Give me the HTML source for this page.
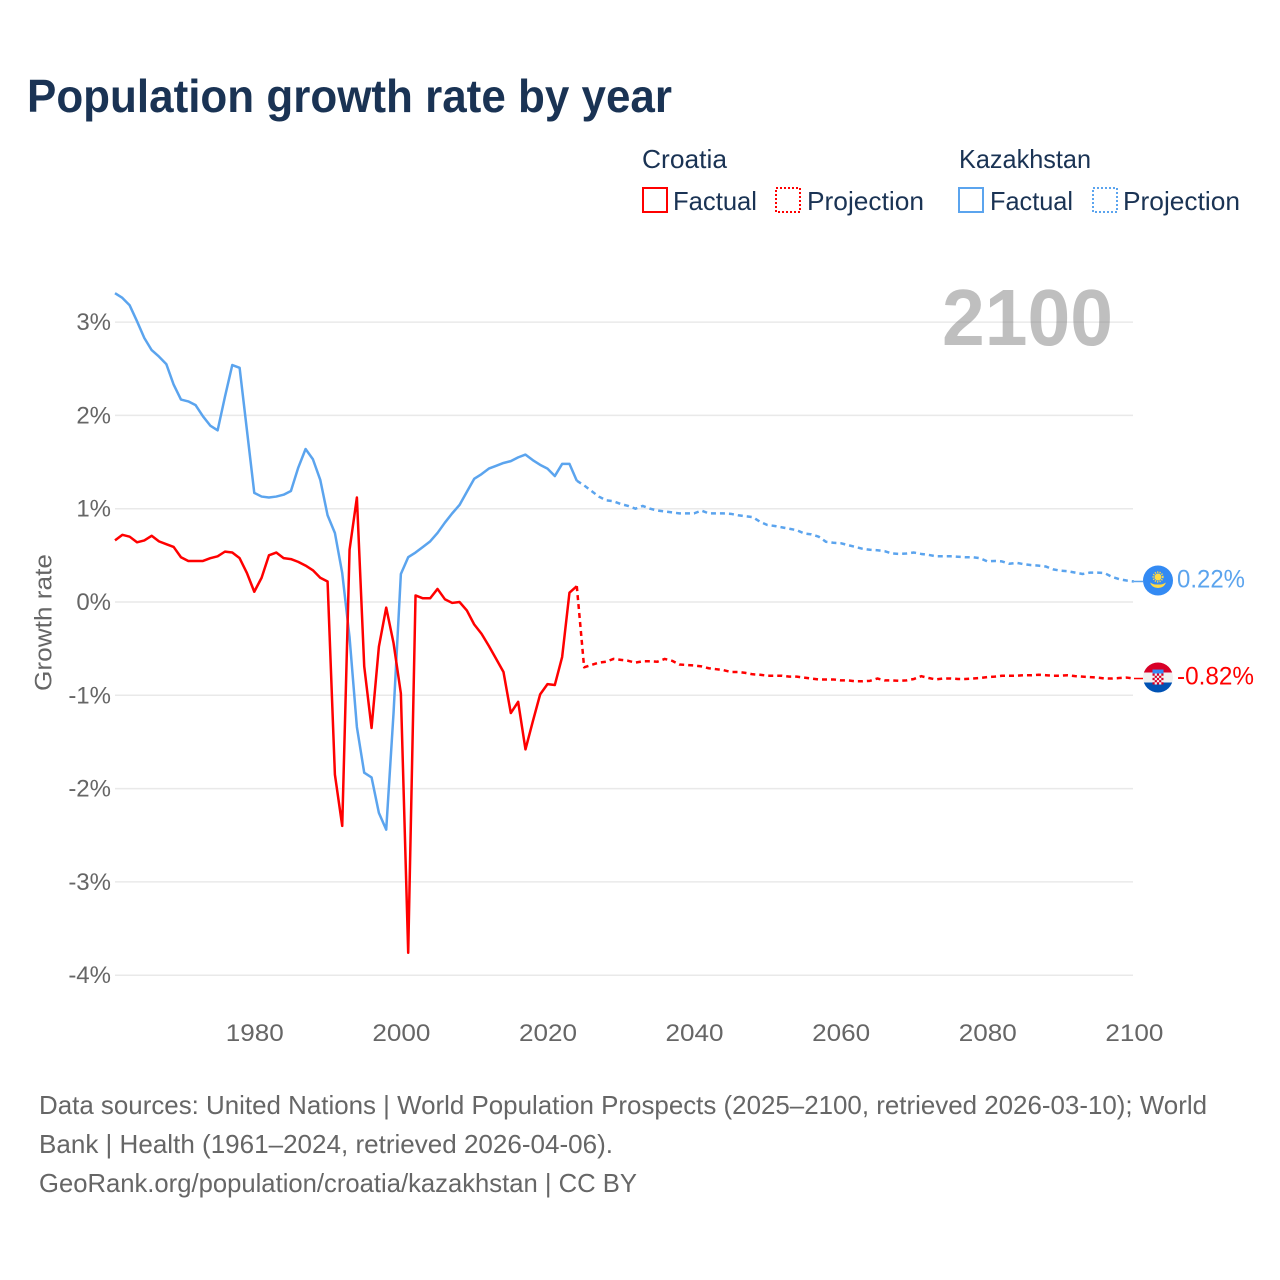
<!DOCTYPE html>
<html lang="en">
<head>
<meta charset="utf-8">
<title>Population growth rate by year</title>
<style>
  html, body { margin: 0; padding: 0; background: #fff; }
  svg { display: block; font-family: "Liberation Sans", sans-serif; }
</style>
</head>
<body>
<svg id="chart" xmlns="http://www.w3.org/2000/svg" width="1280" height="1280" viewBox="0 0 1280 1280">
  <rect x="0" y="0" width="1280" height="1280" fill="#ffffff"/>
  <text x="27" y="112" font-size="46" font-weight="700" fill="#1a3354" textLength="645" lengthAdjust="spacingAndGlyphs">Population growth rate by year</text>

  <g font-size="26" fill="#1a3354">
    <text x="642" y="168" textLength="85" lengthAdjust="spacingAndGlyphs">Croatia</text>
    <text x="959" y="168" textLength="132" lengthAdjust="spacingAndGlyphs">Kazakhstan</text>
    <rect x="643" y="188" width="24" height="24" fill="none" stroke="#ff0000" stroke-width="2"/>
    <text x="673" y="210" textLength="84" lengthAdjust="spacingAndGlyphs">Factual</text>
    <rect x="776" y="188" width="24" height="24" fill="none" stroke="#ff0000" stroke-width="2" stroke-dasharray="2 2"/>
    <text x="807" y="210" textLength="117" lengthAdjust="spacingAndGlyphs">Projection</text>
    <rect x="959" y="188" width="24" height="24" fill="none" stroke="#5ba4ee" stroke-width="2"/>
    <text x="990" y="210" textLength="83" lengthAdjust="spacingAndGlyphs">Factual</text>
    <rect x="1093" y="188" width="24" height="24" fill="none" stroke="#5ba4ee" stroke-width="2" stroke-dasharray="2 2"/>
    <text x="1123" y="210" textLength="117" lengthAdjust="spacingAndGlyphs">Projection</text>
  </g>

  <g id="grid"></g>
  <text x="942" y="345" font-size="80" font-weight="700" fill="#808080" fill-opacity="0.5" textLength="171" lengthAdjust="spacingAndGlyphs">2100</text>
  <g id="y-ticks" font-size="24" fill="#666666" text-anchor="end"></g>
  <g id="x-ticks" font-size="24" fill="#666666" text-anchor="middle"></g>
  <text transform="translate(51.500,691) rotate(-90)" font-size="24" fill="#666666" textLength="137" lengthAdjust="spacingAndGlyphs">Growth rate</text>

  <g id="series"></g>

  <g id="flag-kazakhstan">
    <circle cx="0" cy="0" r="15" fill="#338af3"/>
    <circle cx="0" cy="-3.500" r="3.500" fill="#ffda44"/>
    <circle cx="0" cy="-3.500" r="4.800" fill="none" stroke="#ffda44" stroke-width="1.600" stroke-dasharray="1.200 1.200"/>
    <path d="M-8 2 Q-4 4.500 0 4 Q4 4.500 8 2 Q6 7.500 0 7.500 Q-6 7.500 -8 2 Z" fill="#ffda44"/>
  </g>
  <g id="flag-croatia">
    <clipPath id="croatia-clip"><circle cx="0" cy="0" r="15"/></clipPath>
    <g clip-path="url(#croatia-clip)">
      <rect x="-15" y="-15" width="30" height="10" fill="#d80027"/>
      <rect x="-15" y="-5" width="30" height="10" fill="#f0f0f0"/>
      <rect x="-15" y="5" width="30" height="10" fill="#0052b4"/>
      <rect x="-5.500" y="-8" width="11" height="4" fill="#338af3"/>
      <rect x="-5.500" y="-4" width="11" height="11" fill="#f0f0f0"/>
      <path d="M-5.500 -4h2.200v2.200h-2.200zM-1.100 -4h2.200v2.200h-2.200zM3.300 -4h2.200v2.200h-2.200zM-3.300 -1.800h2.200v2.200h-2.200zM1.100 -1.800h2.200v2.200h-2.200zM-5.500 0.400h2.200v2.200h-2.200zM-1.100 0.400h2.200v2.200h-2.200zM3.300 0.400h2.200v2.200h-2.200zM-3.300 2.600h2.200v2.200h-2.200zM1.100 2.600h2.200v2.200h-2.200zM-5.500 4.800h2.200v2.200h-2.200zM-1.100 4.800h2.200v2.200h-2.200zM3.300 4.800h2.200v2.200h-2.200z" fill="#d80027"/>
    </g>
  </g>
  <text id="value-kazakhstan" x="1177" font-size="25" fill="#5ba4ee" textLength="68" lengthAdjust="spacingAndGlyphs"></text>
  <text id="value-croatia" x="1177" font-size="25" fill="#ff0000" textLength="77" lengthAdjust="spacingAndGlyphs"></text>

  <g font-size="26" fill="#666666">
    <text x="39" y="1114" textLength="1168" lengthAdjust="spacingAndGlyphs">Data sources: United Nations | World Population Prospects (2025–2100, retrieved 2026-03-10); World</text>
    <text x="39" y="1153" textLength="574" lengthAdjust="spacingAndGlyphs">Bank | Health (1961–2024, retrieved 2026-04-06).</text>
    <text x="39" y="1192" textLength="598" lengthAdjust="spacingAndGlyphs">GeoRank.org/population/croatia/kazakhstan | CC BY</text>
  </g>
</svg>
<script>
const factualStartYear = 1961;
const projectionStartYear = 2024;
const xTickYears = [1980, 2000, 2020, 2040, 2060, 2080, 2100];
const yTickValues = [3, 2, 1, 0, -1, -2, -3, -4];
const yTickLabels = ["3%", "2%", "1%", "0%", "-1%", "-2%", "-3%", "-4%"];
const endLabels = { croatia: "-0.82%", kazakhstan: "0.22%" };

const croatiaFactual = [
  0.66,0.72,0.70,0.64,0.66,0.71,0.65,0.62,0.59,0.48,
  0.44,0.44,0.44,0.47,0.49,0.54,0.53,0.47,0.31,0.11,
  0.26,0.50,0.53,0.47,0.46,0.43,0.39,0.34,0.26,0.22,
  -1.85,-2.40,0.56,1.12,-0.69,-1.35,-0.48,-0.06,-0.44,-0.98,
  -3.76,0.07,0.04,0.04,0.14,0.03,-0.01,0.00,-0.09,-0.24,
  -0.34,-0.47,-0.61,-0.75,-1.19,-1.07,-1.58,-1.28,-0.99,-0.88,
  -0.89,-0.59,0.10,0.17
];
const croatiaProjection = [
  0.17,-0.70,-0.675,-0.65,-0.64,-0.61,-0.62,-0.63,-0.65,-0.635,
  -0.635,-0.64,-0.61,-0.63,-0.67,-0.675,-0.68,-0.69,-0.71,-0.72,
  -0.73,-0.75,-0.75,-0.76,-0.775,-0.78,-0.79,-0.79,-0.79,-0.80,
  -0.80,-0.81,-0.82,-0.83,-0.83,-0.83,-0.84,-0.84,-0.85,-0.85,
  -0.845,-0.82,-0.84,-0.84,-0.845,-0.84,-0.825,-0.795,-0.815,-0.83,
  -0.82,-0.82,-0.825,-0.825,-0.82,-0.815,-0.805,-0.80,-0.79,-0.79,
  -0.79,-0.785,-0.785,-0.78,-0.785,-0.79,-0.79,-0.785,-0.795,-0.80,
  -0.805,-0.81,-0.82,-0.82,-0.815,-0.81,-0.82
];
const kazakhstanFactual = [
  3.31,3.26,3.18,3.01,2.83,2.70,2.63,2.55,2.33,2.17,
  2.15,2.11,1.99,1.89,1.84,2.20,2.54,2.51,1.84,1.17,
  1.13,1.12,1.13,1.15,1.19,1.44,1.64,1.53,1.31,0.93,
  0.74,0.31,-0.38,-1.34,-1.83,-1.88,-2.26,-2.44,-1.19,0.30,
  0.48,0.53,0.59,0.65,0.74,0.85,0.95,1.04,1.18,1.32,
  1.37,1.43,1.46,1.49,1.51,1.55,1.58,1.52,1.47,1.43,
  1.35,1.48,1.48,1.30
];
const kazakhstanProjection = [
  1.30,1.25,1.19,1.13,1.09,1.08,1.05,1.03,1.00,1.03,
  1.00,0.98,0.97,0.96,0.95,0.95,0.95,0.98,0.95,0.95,
  0.95,0.945,0.93,0.92,0.91,0.86,0.825,0.815,0.80,0.785,
  0.77,0.735,0.725,0.70,0.645,0.635,0.63,0.61,0.59,0.57,
  0.56,0.555,0.545,0.52,0.515,0.52,0.53,0.515,0.505,0.49,
  0.49,0.49,0.485,0.48,0.48,0.47,0.435,0.44,0.435,0.41,
  0.42,0.405,0.395,0.39,0.38,0.35,0.335,0.33,0.315,0.30,
  0.315,0.315,0.31,0.27,0.245,0.23,0.22
];

const SVG_NS = "http://www.w3.org/2000/svg";
const xScale = year => 115 + (year - 1961) * 7.33;
const yScale = value => 602 - value * 93.3;
const RED = "#ff0000";
const BLUE = "#5ba4ee";

function make(tag, attrs, parent) {
  const el = document.createElementNS(SVG_NS, tag);
  for (const key in attrs) el.setAttribute(key, attrs[key]);
  parent.appendChild(el);
  return el;
}

const gridGroup = document.getElementById("grid");
const yTickGroup = document.getElementById("y-ticks");
yTickValues.forEach((value, i) => {
  const line = make("line", { x1: 115, x2: 1133, y1: yScale(value), y2: yScale(value), stroke: "#e9e9e9", "stroke-width": 1.5 }, gridGroup);
  
  
  const label = make("text", { x: 111, y: yScale(value) + 8 }, yTickGroup);
  
  
  label.textContent = yTickLabels[i];
});

const xTickGroup = document.getElementById("x-ticks");
xTickYears.forEach(year => {
  const label = make("text", { x: xScale(year) + 0.5, y: 1041, textLength: 58, lengthAdjust: "spacingAndGlyphs" }, xTickGroup);
  
  
  label.textContent = String(year);
});

function linePath(values, startYear) {
  return values.map((value, i) => (i ? "L" : "M") + xScale(startYear + i).toFixed(2) + " " + yScale(value).toFixed(2)).join(" ");
}

const seriesGroup = document.getElementById("series");

function drawLine(values, startYear, color, dashed) {
  const attrs = { d: linePath(values, startYear), fill: "none", stroke: color, "stroke-width": 2.5, "stroke-linejoin": "round" };
  if (dashed) attrs["stroke-dasharray"] = "5 4";
  return make("path", attrs, seriesGroup);
}

const kzFactualLine = drawLine(kazakhstanFactual, factualStartYear, BLUE, false);


const kzProjectionLine = drawLine(kazakhstanProjection, projectionStartYear, BLUE, true);


const hrFactualLine = drawLine(croatiaFactual, factualStartYear, RED, false);


const hrProjectionLine = drawLine(croatiaProjection, projectionStartYear, RED, true);



function placeEnd(values, color, flagId, labelId, text) {
  const last = values[values.length - 1];
  const y = yScale(last);
  const connector = make("line", { x1: 1134, x2: 1143, y1: y, y2: y, stroke: color, "stroke-width": 1.5 }, seriesGroup);
  
  
  document.getElementById(flagId).setAttribute("transform", "translate(1158," + (y - 1) + ")");
  const label = document.getElementById(labelId);
  label.setAttribute("y", y + 6);
  label.textContent = text;
}

placeEnd(kazakhstanProjection, BLUE, "flag-kazakhstan", "value-kazakhstan", endLabels.kazakhstan);
placeEnd(croatiaProjection, RED, "flag-croatia", "value-croatia", endLabels.croatia);
</script>
</body>
</html>
